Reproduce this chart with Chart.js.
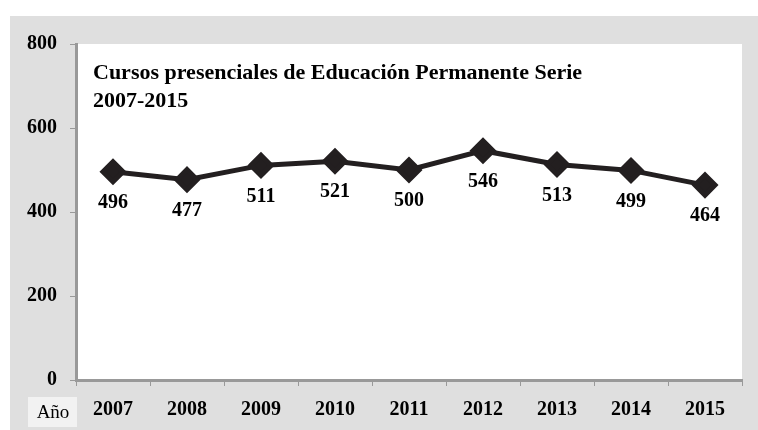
<!DOCTYPE html>
<html>
<head>
<meta charset="utf-8">
<script src="https://cdn.jsdelivr.net/npm/chart.js@4.4.1/dist/chart.umd.min.js"></script>
<style>
html,body{margin:0;padding:0;background:#fff;}
#wrap{width:758px;height:430px;position:relative;}
</style>
</head>
<body>
<div id="wrap"><canvas id="c" width="758" height="430"></canvas></div>
<script>
const years = ["2007","2008","2009","2010","2011","2012","2013","2014","2015"];
const cursos = [496, 477, 511, 521, 500, 546, 513, 499, 464];
const titleLines = ["Cursos presenciales de Educación Permanente Serie", "2007-2015"];
const axisLabel = "Año";

const serif = "'Liberation Serif','Times New Roman',serif";

const bgPlugin = {
  id: 'bg',
  beforeDraw(chart) {
    const ctx = chart.ctx, a = chart.chartArea;
    ctx.save();
    ctx.fillStyle = '#dfdfdf';
    ctx.fillRect(10, 16, 748, 414);
    ctx.fillStyle = '#ffffff';
    ctx.fillRect(a.left, a.top, a.right - a.left, a.bottom - a.top);
    // Año box
    ctx.fillStyle = '#f2f2f2';
    ctx.fillRect(28, 397, 49, 30);
    ctx.fillStyle = '#000';
    ctx.font = "19px " + serif;
    ctx.textAlign = 'center';
    ctx.textBaseline = 'middle';
    ctx.fillText(axisLabel, 53, 413);
    ctx.restore();
  },
  afterDraw(chart) {
    const ctx = chart.ctx, a = chart.chartArea;
    ctx.save();
    ctx.fillStyle = '#000';
    ctx.font = "bold 22px " + serif;
    ctx.textAlign = 'left';
    ctx.textBaseline = 'middle';
    titleLines.forEach((t, i) => ctx.fillText(t, a.left + 17, 73 + i * 28));
    // data labels
    const meta = chart.getDatasetMeta(0);
    ctx.font = "bold 20px " + serif;
    ctx.textAlign = 'center';
    meta.data.forEach((pt, i) => {
      ctx.fillText(String(cursos[i]), pt.x, pt.y + 31);
    });
    ctx.restore();
  }
};

new Chart(document.getElementById('c'), {
  type: 'line',
  data: {
    labels: years,
    datasets: [{
      data: cursos,
      borderColor: '#231f20',
      backgroundColor: '#231f20',
      borderWidth: 5,
      pointStyle: 'rectRot',
      pointRadius: 10,
      pointHoverRadius: 10,
      tension: 0
    }]
  },
  options: {
    responsive: false,
    animation: false,
    layout: { padding: { left: 10, top: 44, right: 16, bottom: 0 } },
    plugins: { legend: { display: false }, tooltip: { enabled: false }, title: { display: false } },
    scales: {
      x: {
        offset: true,
        grid: { drawOnChartArea: false, drawTicks: true, tickLength: 6, color: '#999', offset: true },
        border: { color: '#999', width: 3 },
        ticks: { color: '#000', font: { family: serif, size: 20, weight: 'bold' }, padding: 12 },
        afterFit(s) { s.height = 50; }
      },
      y: {
        min: 0, max: 800,
        grid: { drawOnChartArea: false, drawTicks: true, tickLength: 6, color: '#999' },
        border: { color: '#999', width: 3 },
        ticks: { stepSize: 200, color: '#000', font: { family: serif, size: 20, weight: 'bold' }, padding: 13 },
        afterFit(s) { s.width = 66; }
      }
    }
  },
  plugins: [bgPlugin]
});
</script>
</body>
</html>
